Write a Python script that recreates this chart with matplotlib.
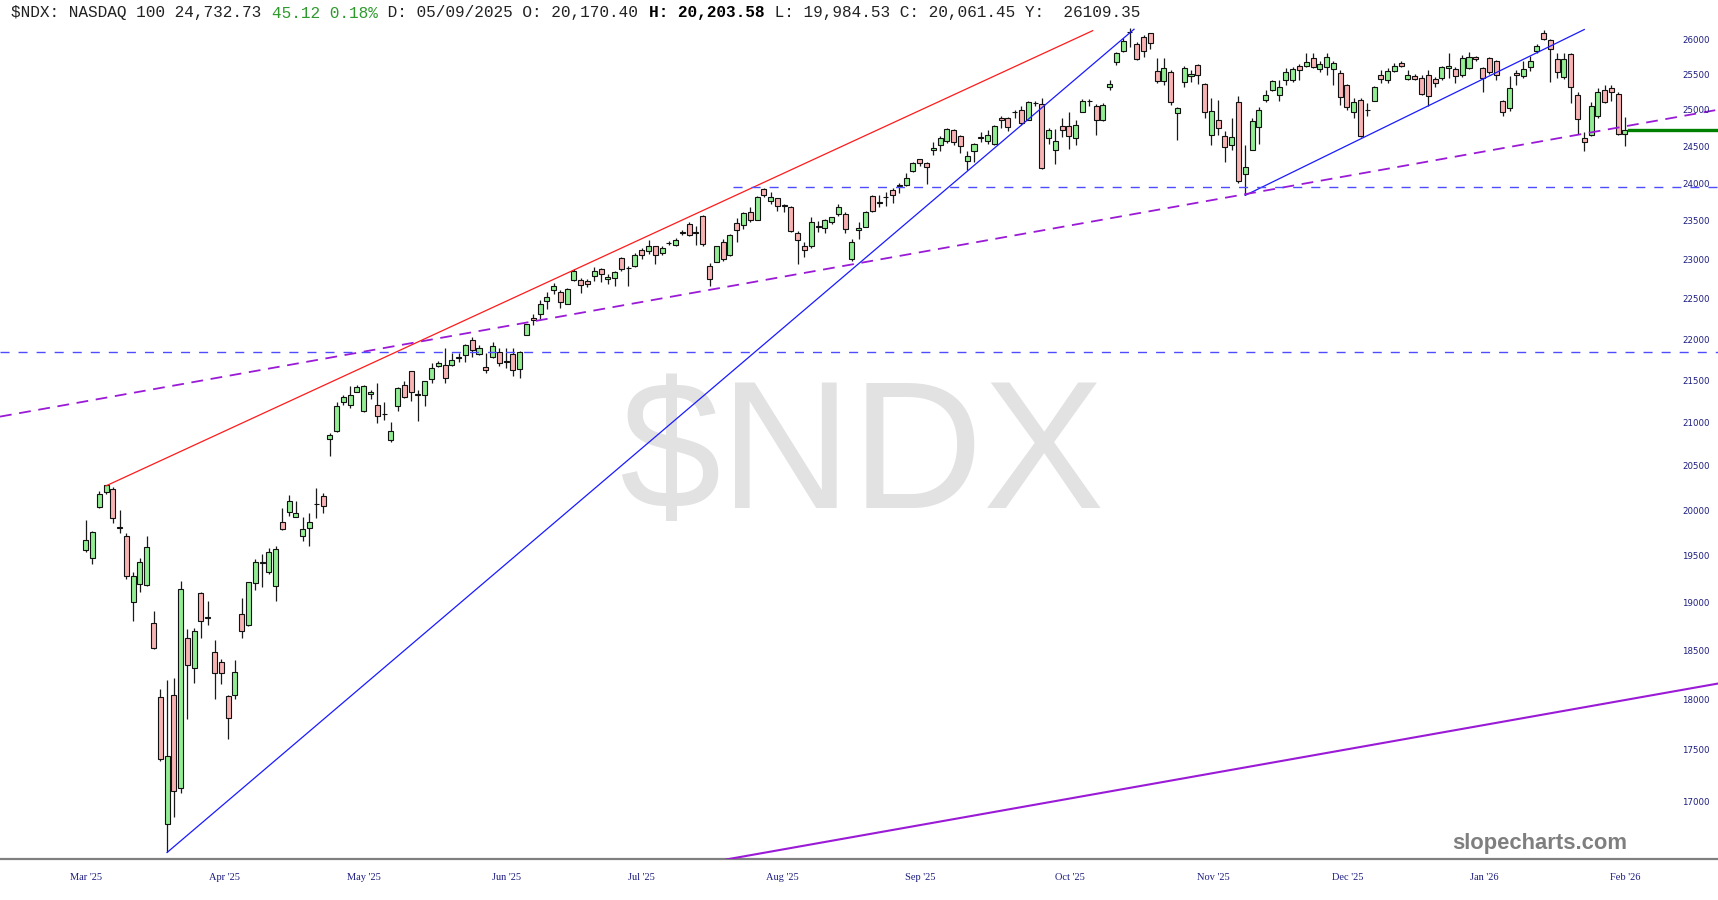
import matplotlib
matplotlib.use("Agg")
import matplotlib.pyplot as plt
import matplotlib.transforms as mtransforms
import numpy as np

plt.rcParams['lines.scale_dashes'] = False

# $NDX daily candles, first bar = 20 Mar 2025 (index 0)
opens = [19570, 19480, 20050, 20210, 20245, 19830, 19730, 19010, 19205, 19195,
         18790, 18035, 16795, 18050, 17140, 18640, 18325, 19105, 18850, 18490,
         18390, 18045, 18050, 18885, 18770, 19220, 19435, 19330, 19180, 19880,
         19995, 19935, 19720, 19815, 20075, 20170.40, 20820, 20910, 21260, 21215,
         21380, 21145, 21355, 21220, 21115, 20815, 21210, 21460, 21620, 21340,
         21335, 21530, 21690, 21695, 21700, 21780, 21820, 22000, 21835, 21680,
         21790, 21860, 21745, 21830, 21645, 22060, 22275, 22330, 22490, 22630,
         22600, 22455, 22755, 22755, 22735, 22800, 22895, 22765, 22780, 23035,
         22905, 22925, 23135, 23125, 23185, 23095, 23225, 23200, 23355, 23470,
         23360, 23580, 22935, 22985, 23235, 23065, 23480, 23455, 23630, 23525,
         23930, 23775, 23810, 23720, 23690, 23360, 23185, 23185, 23445, 23415,
         23495, 23600, 23600, 23020, 23390, 23440, 23845, 23750, 23830, 23920,
         23975, 23985, 24175, 24335, 24280, 24455, 24535, 24580, 24740, 24650,
         24310, 24450, 24630, 24580, 24540, 24905, 24905, 24985, 25015, 24880,
         25110, 25100, 24630, 24460, 24795, 24795, 24620, 24985, 25135, 25070,
         24870, 25340, 25690, 25855, 26130, 25945, 26050, 26105, 25565, 25415,
         25550, 24970, 25400, 25485, 25655, 25380, 24665, 24870, 24655, 24525,
         25120, 24130, 24465, 24775, 25155, 25295, 25220, 25435, 25435, 25635,
         25635, 25745, 25585, 25625, 25585, 25530, 25370, 24985, 25155, 25015,
         25140, 25500, 25435, 25565, 25680, 25450, 25495, 25460, 25500, 25450,
         25460, 25600, 25590, 25500, 25600, 25770, 25610, 25755, 25700, 25145,
         25045, 25540, 25485, 25620, 25845, 26105, 26010, 25730, 25480, 25800,
         25225, 24625, 24665, 24930, 25295, 25320, 25235, 24675]
highs = [19900, 19785, 20225, 20300, 20270, 20015, 19755, 19330, 19480, 19720,
         18915, 18110, 18205, 18225, 19240, 18725, 18735, 19120, 19020, 18615,
         18420, 18055, 18410, 19055, 19230, 19470, 19530, 19595, 19620, 20035,
         20180, 20110, 19930, 19975, 20255, 20203.58, 20890, 21260, 21340, 21450,
         21460, 21460, 21400, 21485, 21260, 21025, 21430, 21505, 21625, 21400,
         21505, 21725, 21745, 21900, 21840, 21840, 21950, 22040, 21940, 21840,
         21980, 21900, 21900, 21910, 21865, 22205, 22330, 22495, 22605, 22715,
         22620, 22650, 22895, 22775, 22765, 22915, 22900, 22830, 22870, 23050,
         22935, 23095, 23155, 23265, 23190, 23185, 23255, 23285, 23400, 23500,
         23450, 23590, 22965, 23190, 23275, 23345, 23545, 23630, 23690, 23845,
         23955, 23895, 23820, 23735, 23710, 23380, 23235, 23570, 23515, 23535,
         23570, 23735, 23625, 23275, 23495, 23645, 23855, 23855, 23890, 23955,
         24020, 24145, 24295, 24345, 24295, 24565, 24655, 24765, 24750, 24665,
         24445, 24555, 24710, 24740, 24810, 24930, 24915, 25015, 25070, 25135,
         25140, 25180, 24765, 24750, 24900, 24980, 24880, 25170, 25165, 25100,
         25110, 25430, 25830, 26035, 26180, 25985, 26080, 26115, 25745, 25745,
         25580, 25050, 25635, 25580, 25665, 25390, 25180, 25155, 24720, 24895,
         25210, 24525, 24905, 25050, 25295, 25435, 25435, 25600, 25625, 25660,
         25815, 25815, 25710, 25815, 25700, 25580, 25385, 25180, 25180, 25110,
         25350, 25580, 25600, 25670, 25700, 25580, 25525, 25500, 25580, 25480,
         25630, 25815, 25615, 25795, 25840, 25780, 25625, 25770, 25720, 25155,
         25495, 25580, 25700, 25780, 25950, 26155, 26025, 25815, 25815, 25825,
         25270, 24710, 25120, 25320, 25365, 25365, 25270, 24915]
lows = [19545, 19420, 20040, 20190, 19865, 19755, 19260, 18815, 19115, 19180,
        18520, 17400, 16535, 16870, 17095, 17810, 18170, 18630, 18770, 18010,
        18160, 17610, 18010, 18630, 18765, 19145, 19170, 19315, 19025, 19790,
        19950, 19935, 19670, 19615, 19920, 19984.53, 20620, 20905, 21215, 21185,
        21380, 21135, 21295, 21010, 21045, 20790, 21150, 21300, 21270, 21035,
        21205, 21480, 21680, 21480, 21685, 21740, 21740, 21790, 21820, 21600,
        21780, 21690, 21660, 21560, 21540, 22060, 22185, 22265, 22390, 22580,
        22400, 22445, 22745, 22590, 22660, 22745, 22725, 22705, 22680, 22870,
        22675, 22915, 23020, 23085, 22955, 23065, 23200, 23190, 23330, 23315,
        23200, 23185, 22670, 22980, 23000, 23055, 23235, 23405, 23495, 23520,
        23835, 23735, 23645, 23630, 23365, 22955, 23040, 23155, 23365, 23355,
        23470, 23580, 23355, 22995, 23275, 23430, 23630, 23690, 23710, 23755,
        23885, 23975, 24170, 24250, 24000, 24395, 24450, 24560, 24525, 24420,
        24190, 24295, 24565, 24550, 24525, 24765, 24720, 24900, 24810, 24870,
        25070, 24200, 24550, 24265, 24640, 24470, 24525, 24980, 25070, 24665,
        24855, 25295, 25650, 25840, 25910, 25720, 25760, 25875, 25395, 25365,
        25080, 24595, 25340, 25405, 25380, 24905, 24535, 24665, 24295, 24455,
        24020, 23850, 24455, 24550, 25120, 25285, 25145, 25365, 25405, 25435,
        25625, 25600, 25550, 25500, 25365, 25080, 25020, 24905, 24640, 24925,
        25135, 25390, 25390, 25550, 25620, 25435, 25435, 25225, 25070, 25340,
        25435, 25460, 25390, 25480, 25585, 25710, 25260, 25525, 25435, 24930,
        25000, 25365, 25470, 25565, 25825, 26010, 25405, 25460, 25445, 25110,
        24685, 24450, 24655, 24905, 25110, 25135, 24665, 24520]
closes = [19685, 19765, 20190, 20295, 19925, 19810, 19295, 19290, 19445, 19600,
          18535, 17415, 17445, 17110, 19155, 18355, 18705, 18815, 18840, 18275,
          18275, 17825, 18290, 18710, 19225, 19445, 19445, 19555, 19585, 19800,
          20115, 19975, 19805, 19880, 20080, 20061.45, 20870, 21205, 21320, 21340,
          21430, 21450, 21370, 21085, 21110, 20920, 21420, 21320, 21370, 21350,
          21500, 21665, 21725, 21545, 21765, 21800, 21940, 21875, 21910, 21640,
          21935, 21725, 21730, 21640, 21860, 22195, 22245, 22445, 22535, 22680,
          22480, 22640, 22870, 22690, 22705, 22865, 22830, 22790, 22850, 22885,
          22900, 23075, 23065, 23185, 23065, 23155, 23230, 23265, 23370, 23330,
          23365, 23210, 22765, 23185, 23020, 23330, 23395, 23615, 23525, 23835,
          23850, 23830, 23710, 23710, 23385, 23265, 23140, 23495, 23435, 23525,
          23560, 23695, 23405, 23235, 23415, 23630, 23645, 23765, 23835, 23850,
          23985, 24085, 24290, 24280, 24225, 24485, 24630, 24755, 24575, 24515,
          24385, 24540, 24640, 24670, 24785, 24875, 24775, 24980, 24835, 25120,
          25105, 24220, 24740, 24590, 24740, 24660, 24800, 25140, 25140, 24880,
          25085, 25385, 25815, 26000, 26125, 25730, 25850, 25960, 25415, 25610,
          25120, 25045, 25600, 25525, 25500, 24985, 24995, 24770, 24505, 24640,
          24040, 24235, 24865, 25010, 25225, 25425, 25335, 25545, 25585, 25575,
          25690, 25625, 25665, 25770, 25675, 25190, 25050, 25125, 24655, 25010,
          25335, 25450, 25565, 25635, 25635, 25510, 25450, 25240, 25205, 25390,
          25625, 25635, 25495, 25755, 25770, 25735, 25460, 25545, 25510, 24985,
          25320, 25510, 25590, 25700, 25925, 26025, 25880, 25545, 25730, 25330,
          24890, 24565, 25065, 25260, 25120, 25260, 24685, 24732.73]

# axis labels
month_labels = ["Mar '25", "Apr '25", "May '25", "Jun '25", "Jul '25", "Aug '25",
                "Sep '25", "Oct '25", "Nov '25", "Dec '25", "Jan '26", "Feb '26"]
month_pos = [0, 20.5, 41.0, 62.0, 82.0, 102.75, 123.1, 145.1, 166.3, 186.1, 206.2, 227.0]
price_levels = list(range(17000, 26001, 500))

# drawn trendlines: (bar index, price) pairs
red_line = [(3, 20285), (148.5, 26144)]
blue_line1 = [(12, 16535), (154.6, 26165)]
blue_line2 = [(171, 23851), (221.0, 26161)]
purple_dash = [(-12.64, 21083), (240.72, 25017)]
purple_solid = [(94.5, 16471), (240.72, 18168)]
hline_low = 21860
hline_high = 23957
hline_high_start = 95.5
last_price = 24732.73

x_min, x_max = -12.64, 240.72
y_min, y_max = 16475, 26595

fig = plt.figure(figsize=(17.18, 9.0), dpi=100)
ax = fig.add_axes([0, 41 / 900, 1, 859 / 900])
ax.set_yscale('log')
ax.set_xlim(x_min, x_max)
ax.set_ylim(y_min, y_max)

o = np.array(opens)
h = np.array(highs)
l = np.array(lows)
c = np.array(closes)
idx = np.arange(len(c))
up = c >= o

ax.vlines(idx, l, h, color='#1a1a1a', lw=0.9, zorder=2)
ax.bar(idx, np.abs(c - o), bottom=np.minimum(o, c), width=0.74,
       color=np.where(up, '#93ee93', '#f8b4b4'), edgecolor='#111111',
       linewidth=0.8, zorder=3)

def seg(pts, **kw):
    ax.plot([p[0] for p in pts], [p[1] for p in pts], zorder=4, **kw)

seg(red_line, color='#ff1a1a', lw=0.9)
seg(blue_line1, color='#1a1aff', lw=0.9)
seg(blue_line2, color='#1a1aff', lw=0.9)
seg(purple_dash, color='#9a1ad6', lw=1.3, dashes=(8.5, 5.5))
seg(purple_solid, color='#9a1ad6', lw=1.5)
ax.plot([x_min, x_max], [hline_low] * 2, color='#4d4dff', lw=1.0, dashes=(6.5, 6.5), zorder=4)
ax.plot([hline_high_start, x_max], [hline_high] * 2, color='#4d4dff', lw=1.0, dashes=(6.5, 6.5), zorder=4)
ax.plot([len(c) - 0.45, x_max], [last_price] * 2, color='#008000', lw=2.4, zorder=4)

for s in ['top', 'left', 'right']:
    ax.spines[s].set_visible(False)
ax.spines['bottom'].set_color('#808080')
ax.spines['bottom'].set_linewidth(1.6)
ax.set_xticks([])
ax.set_yticks([])
ax.minorticks_off()
ax.yaxis.set_minor_locator(matplotlib.ticker.NullLocator())

# watermark behind candles
ax.text(862 / 1718, 1 - 508 / 900, '$NDX', transform=fig.transFigure, fontsize=131,
        family='Liberation Sans', color='#e2e2e2', ha='center', va='baseline', zorder=0)

# price labels inside right margin
ytrans = mtransforms.blended_transform_factory(fig.transFigure, ax.transData)
for v in price_levels:
    ax.text(0.9872, v, str(v), transform=ytrans, fontsize=6.2, family='DejaVu Sans',
            color='#1c1c80', ha='center', va='center', zorder=5)

# month labels
xtrans = mtransforms.blended_transform_factory(ax.transData, fig.transFigure)
for pos, lab in zip(month_pos, month_labels):
    fig.text(pos, 1 - 877 / 900, lab, transform=xtrans, fontsize=7.5,
             family='Liberation Serif', color='#1c1c80', ha='center', va='center')

fig.text(1540 / 1718, 1 - 849.5 / 900, 'slopecharts.com', fontsize=15.8,
         family='Liberation Sans', weight='bold', color='#7f7f7f',
         ha='center', va='baseline')

# header line
hdr_size = 11.6
char_px = 0.6 * hdr_size * 100 / 72
parts = [("$NDX: NASDAQ 100 24,732.73 ", '#222222', 'normal'),
         ("45.12 0.18%", '#2e9a2e', 'normal'),
         (" D: 05/09/2025 O: 20,170.40 ", '#222222', 'normal'),
         ("H: 20,203.58", '#000000', 'bold'),
         (" L: 19,984.53 C: 20,061.45 Y:  26109.35", '#222222', 'normal')]
n = 0
for txt, col, wt in parts:
    fig.text((11 + n * char_px) / 1718, 1 - 13 / 900, txt, fontsize=hdr_size,
             family='Liberation Mono', color=col, weight=wt, ha='left', va='center')
    n += len(txt)

fig.savefig('out.png', dpi=100)
